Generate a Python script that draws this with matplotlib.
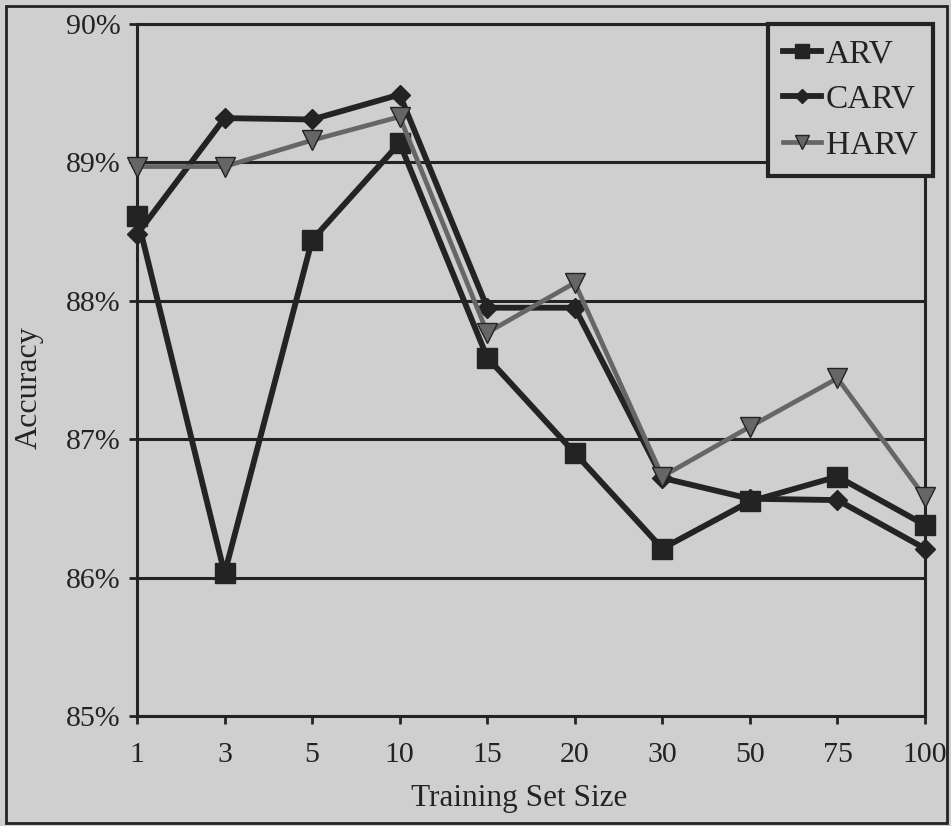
import matplotlib.pyplot as plt
from matplotlib.patches import Rectangle
from matplotlib.ticker import FuncFormatter

sizes = ["1", "3", "5", "10", "15", "20", "30", "50", "75", "100"]
arv = [88.61, 86.03, 88.44, 89.14, 87.59, 86.90, 86.21, 86.55, 86.73, 86.38]
carv = [88.48, 89.32, 89.31, 89.49, 87.95, 87.95, 86.72, 86.57, 86.56, 86.21]
harv = [88.97, 88.97, 89.16, 89.33, 87.77, 88.13, 86.73, 87.09, 87.44, 86.58]

bg = "#cfcfcf"
dark = "#232323"
grey = "#666666"
plt.rcParams["font.family"] = ["Liberation Serif", "DejaVu Serif"]

fig = plt.figure(figsize=(9.51, 8.26), dpi=100, facecolor=bg)
ax = fig.add_axes([137 / 951, 1 - 716 / 826, (925 - 137) / 951, (716 - 24) / 826])
ax.set_facecolor(bg)

x = list(range(len(sizes)))
ax.plot(x, arv, color=dark, lw=4.2, marker="s", ms=14, label="ARV",
        zorder=4, clip_on=False)
ax.plot(x, carv, color=dark, lw=4.2, marker="D", ms=10, label="CARV",
        zorder=3, clip_on=False)
ax.plot(x, harv, color=grey, lw=3.4, marker="v", ms=14, mec=dark, mew=1,
        mfc=grey, label="HARV", zorder=5, clip_on=False)

ax.set_xlim(0, len(sizes) - 1)
ax.set_ylim(85, 90)
ax.set_xticks(x)
ax.set_xticklabels(sizes)
ax.set_yticks([85, 86, 87, 88, 89, 90])
ax.yaxis.set_major_formatter(FuncFormatter(lambda v, p: f"{v:.0f}%"))
ax.grid(axis="y", color=dark, lw=2.2)
ax.set_axisbelow(True)
for s in ax.spines.values():
    s.set_color(dark)
    s.set_linewidth(2.2)
ax.tick_params(axis="both", direction="out", length=6, width=2, color=dark,
               labelsize=21.5, labelcolor=dark)
ax.tick_params(axis="y", pad=6)
ax.tick_params(axis="x", pad=13)

ax.set_xlabel("Training Set Size", fontsize=22.5, color=dark)
ax.xaxis.set_label_coords(0.485, -0.098)
fig.text(29 / 951, 1 - 388 / 826, "Accuracy", rotation=90, fontsize=23,
         color=dark, ha="center", va="center")

leg = fig.legend(loc="upper right", bbox_to_anchor=(933 / 951, 1 - 24 / 826),
                 fontsize=24, frameon=True, fancybox=False, handlelength=1.15,
                 handletextpad=0.15, borderpad=0.45, labelspacing=0.45,
                 borderaxespad=0, markerscale=0.75)
leg.get_frame().set_facecolor(bg)
leg.get_frame().set_edgecolor(dark)
leg.get_frame().set_linewidth(3)
leg.get_frame().set_alpha(1)
for t in leg.get_texts():
    t.set_color(dark)

fig.patches.append(Rectangle((6 / 951, 3 / 826), 941 / 951, 817 / 826,
                             transform=fig.transFigure, fill=False,
                             edgecolor=dark, lw=2))

fig.savefig("out.png", dpi=100, facecolor=bg)
